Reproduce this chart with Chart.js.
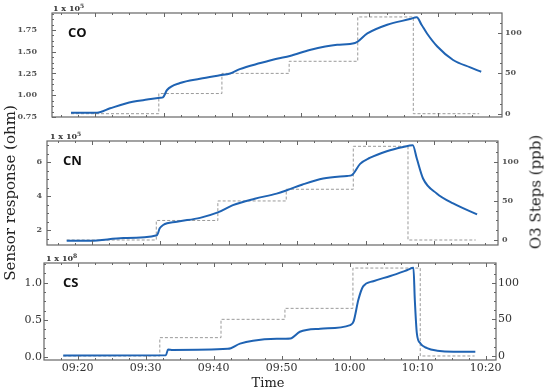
<!DOCTYPE html>
<html>
<head>
<meta charset="utf-8">
<script src="https://cdn.jsdelivr.net/npm/chart.js@4.4.1/dist/chart.umd.min.js"></script>
<style>
  body { margin: 0; background: #fff; }
  #wrap { position: relative; width: 550px; height: 392px; overflow: hidden; font-family: 'DejaVu Serif', serif; }
  canvas { position: absolute; left: 0; }
  .lbl { position: absolute; white-space: nowrap; line-height: 1; }
  .mult { font-size: 8px; font-weight: bold; color: #333; }
  .mult sup { font-size: 6px; vertical-align: 3px; }
  .name { font-family: 'Open Sans', sans-serif; font-weight: bold; font-size: 13px; color: #111; }
  .axt { font-size: 15px; color: #222; }
</style>
</head>
<body>
<div id="wrap">
  <canvas id="co-chart" width="550" height="125" style="top:0"></canvas>
  <canvas id="cn-chart" width="550" height="125" style="top:125px"></canvas>
  <canvas id="cs-chart" width="550" height="142" style="top:250px"></canvas>

  <div class="lbl mult" style="left:53px;top:3px">1 x 10<sup>5</sup></div>
  <div class="lbl mult" style="left:50px;top:131px">1 x 10<sup>5</sup></div>
  <div class="lbl mult" style="left:46px;top:253px">1 x 10<sup>8</sup></div>

  <div class="lbl name" style="left:68px;top:26px">CO</div>
  <div class="lbl name" style="left:63px;top:154px">CN</div>
  <div class="lbl name" style="left:63px;top:276px">CS</div>

  <div class="lbl axt" style="left:10px;top:193px;transform:translate(-50%,-50%) rotate(-90deg)">Sensor response (ohm)</div>
  <div class="lbl axt" style="left:536px;top:192px;transform:translate(-50%,-50%) rotate(-90deg)">O3 Steps (ppb)</div>
  <div class="lbl" style="left:268px;top:382px;font-size:13px;color:#222;transform:translate(-50%,-50%)">Time</div>
</div>
<script>
// time in minutes after 09:00
const coTime = [16.5, 20.3, 22.2, 25.5, 27.6, 29.5, 29.9, 30.5, 32.4, 35.3, 38.2, 39.7, 41.1, 44.1, 46.5, 48.4,
  51.3, 55.3, 57.9, 59.7, 62.6, 65.9, 66.9, 67.6, 68.4, 69.9, 72.2, 74.7, 76.3];
const coValues = [0.80, 0.80, 0.85, 0.925, 0.95, 0.97, 0.975, 1.06, 1.14, 1.19, 1.23, 1.25, 1.30, 1.37, 1.42, 1.45,
  1.52, 1.58, 1.60, 1.71, 1.81, 1.875, 1.895, 1.81, 1.71, 1.56, 1.405, 1.32, 1.27];

const cnTime = [16.3, 19.7, 24.6, 29.5, 29.9, 30.4, 32.4, 35.8, 38.4, 40.6, 43.8, 47.0, 48.5, 50.8, 53.8, 57.3, 58.0,
  59.2, 60.6, 63.1, 65.5, 66.9, 67.5, 68.4, 70.4, 72.8, 76.3];
const cnValues = [1.37, 1.37, 1.53, 1.70, 2.1, 2.3, 2.49, 2.72, 3.04, 3.47, 3.85, 4.15, 4.35, 4.69, 5.04, 5.19, 5.24,
  5.9, 6.25, 6.65, 6.9, 7.0, 6.2, 5.04, 4.16, 3.57, 2.92];

const csTime = [17.9, 33.0, 33.3, 34.0, 42.1, 43.9, 45.8, 49.3, 51.3, 52.7, 55.7, 60.1, 60.6, 61.3, 62.0, 63.5,
  66.0, 68.5, 69.4, 69.6, 69.9, 70.4, 71.4, 72.9, 75.3, 78.5];
const csValues = [0.02, 0.025, 0.10, 0.095, 0.11, 0.18, 0.22, 0.245, 0.25, 0.34, 0.38, 0.43, 0.48, 0.77, 0.95, 1.02,
  1.09, 1.17, 1.20, 0.77, 0.32, 0.185, 0.12, 0.085, 0.07, 0.07];

// O3 steps (ppb)
const stepLevels = [0, 25, 50, 65, 120, 0, 0];
const coStepTime = [16.5, 29.3, 38.5, 48.3, 58.3, 66.4, 76.0];
const cnStepTime = [16.3, 29.4, 38.4, 48.4, 58.2, 66.2, 76.1];
const csStepTime = [17.9, 32.1, 41.1, 50.5, 60.5, 70.4, 78.4];

const coTicks = [0.75, 1.0, 1.25, 1.5, 1.75];
const cnTicks = [2, 4, 6];
const csTicks = [0, 0.5, 1.0];
const ppbTicks = [0, 50, 100];
const timeTicks = [20, 30, 40, 50, 60, 70, 80];
const timeLabels = ['09:20', '09:30', '09:40', '09:50', '10:00', '10:10', '10:20'];

const BLUE = '#1f63b3';
const GREY = '#9a9a9a';

function pts(xs, ys) {
  return xs.map((x, i) => ({ x: x, y: ys[i] }));
}

// frame + inward major/minor tick marks like the matplotlib original
const frameTicks = {
  id: 'frameTicks',
  afterDraw(chart) {
    const { ctx, chartArea: a, scales } = chart;
    ctx.save();
    ctx.strokeStyle = '#666';
    ctx.lineWidth = 1;
    const mark = (x1, y1, x2, y2) => {
      ctx.beginPath();
      ctx.moveTo(x1, y1);
      ctx.lineTo(x2, y2);
      ctx.stroke();
    };
    ['x', 'y', 'y1'].forEach(id => {
      const s = scales[id];
      const vals = s.ticks.map(t => t.value);
      const step = (vals[1] - vals[0]) / 4;
      const start = Math.ceil(s.min / step);
      const end = Math.floor(s.max / step);
      for (let k = start; k <= end; k++) {
        const v = k * step;
        const len = k % 4 === 0 ? 4 : 2;
        const p = Math.round(s.getPixelForValue(v)) + 0.5;
        if (id === 'x') {
          mark(p, a.bottom, p, a.bottom - len);
          mark(p, a.top, p, a.top + len);
        } else if (id === 'y') {
          mark(a.left, p, a.left + len, p);
        } else {
          mark(a.right, p, a.right - len, p);
        }
      }
    });
    ctx.lineWidth = 1.2;
    ctx.strokeRect(a.left, a.top, a.width, a.height);
    ctx.restore();
  }
};

function setTicks(values) {
  return scale => {
    scale.ticks = values.map(v => ({ value: v }));
  };
}

function fixSize(key, size) {
  return scale => {
    scale[key] = size;
    scale.paddingLeft = scale.paddingRight = 0;
    scale.paddingTop = scale.paddingBottom = 0;
  };
}

function makePanel(id, p) {
  const ctx = document.getElementById(id).getContext('2d');
  return new Chart(ctx, {
    type: 'line',
    data: {
      datasets: [{
        data: pts(p.time, p.values),
        yAxisID: 'y',
        borderColor: BLUE,
        borderWidth: 2,
        pointRadius: 0,
        cubicInterpolationMode: 'monotone',
        fill: false
      }, {
        data: pts(p.stepTime, stepLevels),
        yAxisID: 'y1',
        borderColor: GREY,
        borderWidth: 1,
        borderDash: [3, 2],
        pointRadius: 0,
        stepped: 'before',
        fill: false
      }]
    },
    options: {
      responsive: false,
      animation: false,
      events: [],
      layout: { padding: { top: p.top, left: 0, right: 0, bottom: 0 } },
      plugins: { legend: { display: false }, tooltip: { enabled: false } },
      scales: {
        x: {
          type: 'linear',
          min: p.xMin,
          max: p.xMax,
          grid: { display: false, drawTicks: false },
          border: { display: false },
          afterBuildTicks: setTicks(timeTicks),
          afterFit: fixSize('height', p.xHeight),
          ticks: {
            display: p.showTime,
            maxRotation: 0,
            autoSkip: false,
            padding: 2,
            color: '#333',
            font: { family: 'DejaVu Serif', size: 11 },
            callback: v => timeLabels[timeTicks.indexOf(v)]
          }
        },
        y: {
          position: 'left',
          min: p.yMin,
          max: p.yMax,
          grid: { display: false, drawTicks: false },
          border: { display: false },
          afterBuildTicks: setTicks(p.yTicks),
          afterFit: fixSize('width', p.leftW),
          ticks: {
            padding: p.leftPad,
            color: p.tickColor,
            font: { family: 'DejaVu Serif', size: p.tickSize, weight: p.tickWeight },
            callback: p.fmt
          }
        },
        y1: {
          position: 'right',
          min: p.y1Min,
          max: p.y1Max,
          grid: { display: false, drawTicks: false },
          border: { display: false },
          afterBuildTicks: setTicks(ppbTicks),
          afterFit: fixSize('width', p.rightW),
          ticks: {
            padding: p.rightPad,
            color: p.tickColor,
            font: { family: 'DejaVu Serif', size: p.tickSize, weight: p.tickWeight },
            callback: v => String(v)
          }
        }
      }
    },
    plugins: [frameTicks]
  });
}

makePanel('co-chart', {
  time: coTime, values: coValues, stepTime: coStepTime,
  xMin: 13.73, xMax: 79.33, yMin: 0.75, yMax: 1.945, y1Min: -4.1, y1Max: 124.9,
  yTicks: coTicks, fmt: v => v.toFixed(2),
  top: 13, xHeight: 8, leftW: 52, rightW: 48, leftPad: 15, rightPad: 3,
  showTime: false, tickSize: 8, tickColor: '#555', tickWeight: 'bold'
});

makePanel('cn-chart', {
  time: cnTime, values: cnValues, stepTime: cnStepTime,
  xMin: 13.42, xMax: 79.36, yMin: 1.12, yMax: 7.25, y1Min: -6.4, y1Max: 126.8,
  yTicks: cnTicks, fmt: v => String(v),
  top: 16, xHeight: 5, leftW: 47, rightW: 52, leftPad: 5, rightPad: 4,
  showTime: false, tickSize: 8, tickColor: '#555', tickWeight: 'bold'
});

makePanel('cs-chart', {
  time: csTime, values: csValues, stepTime: csStepTime,
  xMin: 15.07, xMax: 81.54, yMin: -0.04, yMax: 1.265, y1Min: -5.5, y1Max: 126.9,
  yTicks: csTicks, fmt: v => v.toFixed(1),
  top: 13, xHeight: 32, leftW: 44, rightW: 54, leftPad: 2, rightPad: 2,
  showTime: true, tickSize: 11, tickColor: '#333', tickWeight: 'normal'
});
</script>
</body>
</html>
